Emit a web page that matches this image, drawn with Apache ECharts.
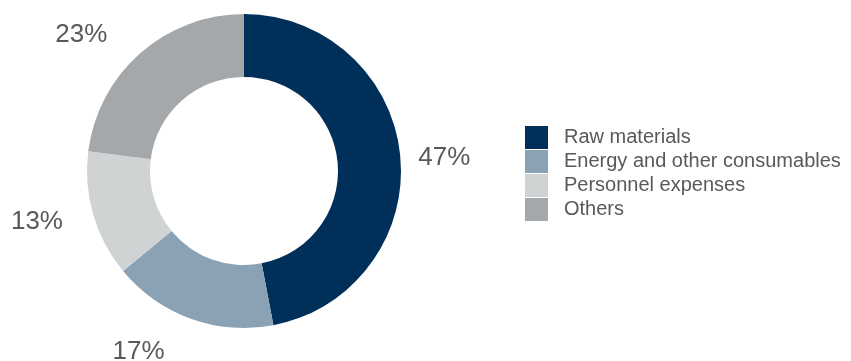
<!DOCTYPE html>
<html>
<head>
<meta charset="utf-8">
<script src="https://cdn.jsdelivr.net/npm/echarts@6/dist/echarts.min.js"></script>
<style>html,body{margin:0;padding:0;background:#fff}#c{width:851px;height:361px}</style>
</head>
<body>
<div id="c"></div>
<script>
const categories = ['Raw materials', 'Energy and other consumables', 'Personnel expenses', 'Others'];
const values = [47, 17, 13, 23];
const colors = ['#00305A', '#8BA2B4', '#D0D3D4', '#A5A8AA'];
const labelLen = [0, 33, 19, 27];
const labelLen2 = [13, 10, 7, 10];

const chart = echarts.init(document.getElementById('c'));
chart.setOption({
  animation: false,
  legend: {
    orient: 'vertical',
    left: 520,
    top: 121,
    itemWidth: 23,
    itemHeight: 23,
    itemGap: 1,
    icon: 'rect',
    textStyle: { fontFamily: 'Liberation Sans', fontSize: 20, color: '#595959', padding: [0, 0, 0, 11] },
    data: categories
  },
  series: [{
    type: 'pie',
    center: [244, 171],
    radius: [94, 157],
    startAngle: 90,
    clockwise: true,
    avoidLabelOverlap: false,
    label: {
      show: true,
      position: 'outside',
      formatter: '{c}%',
      fontFamily: 'Liberation Sans',
      fontSize: 26,
      color: '#595959'
    },
    labelLayout: { dy: 2 },
    data: categories.map((n, i) => ({
      name: n,
      value: values[i],
      itemStyle: { color: colors[i] },
      labelLine: { show: false, length: labelLen[i], length2: labelLen2[i] }
    }))
  }]
});
</script>
</body>
</html>
